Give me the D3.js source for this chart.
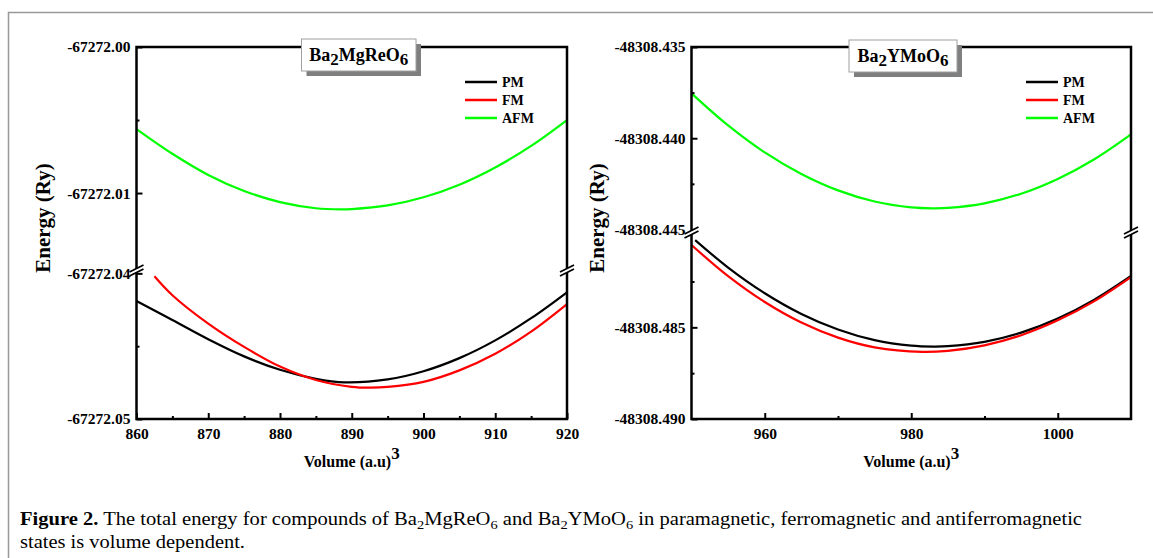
<!DOCTYPE html>
<html>
<head>
<meta charset="utf-8">
<script src="https://cdn.jsdelivr.net/npm/d3@7"></script>
<style>
  body { margin: 0; background: #fff; }
  text { font-family: "Liberation Serif", "Times New Roman", serif; }
</style>
</head>
<body>
<svg id="fig" width="1153" height="558"></svg>
<script>
// ---- Ba2MgReO6 ----
const mgVolPM  = [860, 865, 870, 875, 880, 885, 889, 895, 900, 905, 910, 915, 920];
const mgPM     = [-67272.04190, -67272.04320, -67272.04452, -67272.04570, -67272.04662, -67272.04724, -67272.04748,
                  -67272.04728, -67272.04672, -67272.04582, -67272.04460, -67272.04308, -67272.04130];
const mgVolFM  = [862.5, 865, 870, 875, 880, 885, 890, 892.5, 895, 900, 905, 910, 915, 920];
const mgFM     = [-67272.04020, -67272.04150, -67272.04345, -67272.04505, -67272.04640, -67272.04732, -67272.04779,
                  -67272.04785, -67272.04780, -67272.04745, -67272.04666, -67272.04552, -67272.04400, -67272.04211];
const mgVolAFM = [860, 865, 870, 875, 880, 885, 888.5, 890, 895, 900, 905, 910, 915, 920];
const mgAFM    = [-67272.00562, -67272.00731, -67272.00876, -67272.00986, -67272.01062, -67272.01104, -67272.01112,
                  -67272.01110, -67272.01085, -67272.01029, -67272.00943, -67272.00825, -67272.00677, -67272.00500];

// ---- Ba2YMoO6 ----
const yVolPM  = [950.5, 955, 960, 965, 970, 975, 980, 983, 985, 990, 995, 1000, 1005, 1010];
const yPM     = [-48308.48024, -48308.48174, -48308.48314, -48308.48427, -48308.48512, -48308.48570, -48308.48600,
                 -48308.48605, -48308.48603, -48308.48579, -48308.48529, -48308.48452, -48308.48349, -48308.48220];
const yVolFM  = [950, 955, 960, 965, 970, 975, 981.5, 985, 990, 995, 1000, 1005, 1010];
const yFM     = [-48308.48051, -48308.48221, -48308.48362, -48308.48474, -48308.48556, -48308.48609, -48308.48634,
                 -48308.48628, -48308.48598, -48308.48543, -48308.48462, -48308.48357, -48308.48226];
const yVolAFM = [950, 955, 960, 965, 970, 975, 980, 983, 985, 990, 995, 1000, 1005, 1010];
const yAFM    = [-48308.43754, -48308.43930, -48308.44078, -48308.44196, -48308.44286, -48308.44347, -48308.44379,
                 -48308.44384, -48308.44382, -48308.44357, -48308.44304, -48308.44223, -48308.44115, -48308.43979];

// ---- ticks ----
const mgXMajor = [860, 870, 880, 890, 900, 910, 920];
const mgXMinor = [865, 875, 885, 895, 905, 915];
const mgYMajorTop = [-67272.00, -67272.01];
const mgYMinorTop = [-67272.005];
const mgYMajorBot = [-67272.04, -67272.05];
const mgYMinorBot = [-67272.045];

const yXMajor = [960, 980, 1000];
const yXMinor = [970, 990];
const yYMajorTop = [-48308.435, -48308.440, -48308.445];
const yYMinorTop = [-48308.4375, -48308.4425];
const yYMajorBot = [-48308.485, -48308.490];
const yYMinorBot = [-48308.4825, -48308.4875];

const seriesNames = ["PM", "FM", "AFM"];
const seriesColors = ["#000000", "#ff0000", "#00ff00"];

const svg = d3.select("#fig");

// outer frame of the figure
svg.append("path")
  .attr("d", "M8.5,558V12.5H1153")
  .attr("fill", "none").attr("stroke", "#999").attr("stroke-width", 1.5);

// text with lowered subscript parts: parts = [[string, isSub], ...]
function subText(t, parts, shift, subSize) {
  let prev = false;
  parts.forEach(([s, sub]) => {
    const sp = t.append("tspan").attr("dy", (sub ? shift : 0) - (prev ? shift : 0)).text(s);
    if (sub && subSize) sp.attr("font-size", subSize);
    prev = sub;
  });
}

function panel(cfg) {
  const g = svg.append("g");
  const x = d3.scaleLinear().domain(cfg.xDomain).range([cfg.left, cfg.right]);
  const yTop = d3.scaleLinear().domain(cfg.topDomain).range([cfg.brk, cfg.top]);
  const yBot = d3.scaleLinear().domain(cfg.botDomain).range([cfg.bottom, cfg.brk]);
  const y = v => v >= cfg.topDomain[0] ? yTop(v) : yBot(v);

  const fmt = v => v.toFixed(cfg.digits);

  // curves
  const line = d3.line().x(d => x(d[0])).y(d => y(d[1])).curve(d3.curveCatmullRom);
  cfg.series.forEach((s, i) => {
    g.append("path")
      .datum(d3.zip(s[0], s[1]))
      .attr("d", line)
      .attr("fill", "none")
      .attr("stroke", seriesColors[i])
      .attr("stroke-width", 2.2);
  });

  // y axes (two segments)
  const yAxis = (scale, vals, size, labels) => {
    const a = g.append("g")
      .attr("transform", `translate(${cfg.left},0)`)
      .call(d3.axisLeft(scale).tickValues(vals).tickSizeInner(-size).tickSizeOuter(0)
        .tickPadding(6).tickFormat(labels ? fmt : ""));
    a.select(".domain").remove();
    a.selectAll("line").attr("stroke", "#000").attr("stroke-width", 2);
    a.selectAll("text").attr("font-size", 15.5).attr("font-weight", "bold").attr("fill", "#000")
      .attr("font-family", '"Liberation Serif", serif');
  };
  yAxis(yTop, cfg.yMajorTop, 6, true);
  yAxis(yTop, cfg.yMinorTop, 3, false);
  yAxis(yBot, cfg.yMajorBot, 6, true);
  yAxis(yBot, cfg.yMinorBot, 3, false);

  // x axis
  const xAxis = (vals, size, labels) => {
    const a = g.append("g")
      .attr("transform", `translate(0,${cfg.bottom})`)
      .call(d3.axisBottom(x).tickValues(vals).tickSizeInner(-size).tickSizeOuter(0)
        .tickPadding(9).tickFormat(labels ? d3.format("d") : ""));
    a.select(".domain").remove();
    a.selectAll("line").attr("stroke", "#000").attr("stroke-width", 2);
    a.selectAll("text").attr("font-size", 15.5).attr("font-weight", "bold").attr("fill", "#000")
      .attr("font-family", '"Liberation Serif", serif');
  };
  xAxis(cfg.xMajor, 6, true);
  xAxis(cfg.xMinor, 3, false);

  // frame
  g.append("rect")
    .attr("x", cfg.left).attr("y", cfg.top)
    .attr("width", cfg.right - cfg.left).attr("height", cfg.bottom - cfg.top)
    .attr("fill", "none").attr("stroke", "#000").attr("stroke-width", 2.5);

  // axis break marks
  [cfg.left, cfg.right].forEach(ax => {
    const b = cfg.brk;
    g.append("path")
      .attr("d", `M${ax - 7},${b + 2}L${ax + 7},${b - 5}L${ax + 7},${b - 1}L${ax - 7},${b + 6}Z`)
      .attr("fill", "#fff");
    g.append("path")
      .attr("d", `M${ax - 7},${b + 2}L${ax + 7},${b - 5}M${ax - 7},${b + 6}L${ax + 7},${b - 1}`)
      .attr("stroke", "#000").attr("stroke-width", 1.8);
  });

  // title box
  const tb = cfg.titleBox;
  g.append("rect").attr("x", tb[0] + 5).attr("y", tb[1] + 5).attr("width", tb[2]).attr("height", tb[3])
    .attr("fill", "#7f7f7f");
  g.append("rect").attr("x", tb[0]).attr("y", tb[1]).attr("width", tb[2]).attr("height", tb[3])
    .attr("fill", "#fff").attr("stroke", "#a0a0a0").attr("stroke-width", 1);
  const tt = g.append("text")
    .attr("x", tb[0] + tb[2] / 2).attr("y", tb[1] + 22)
    .attr("text-anchor", "middle").attr("font-size", 18).attr("font-weight", "bold");
  subText(tt, cfg.title, 4, 17);

  // legend
  seriesNames.forEach((n, i) => {
    const ly = cfg.legend[1] + i * 18;
    g.append("line").attr("x1", cfg.legend[0]).attr("x2", cfg.legend[0] + 32)
      .attr("y1", ly).attr("y2", ly).attr("stroke", seriesColors[i]).attr("stroke-width", 2.5);
    g.append("text").attr("x", cfg.legend[0] + 37).attr("y", ly + 5)
      .attr("font-size", 14).attr("font-weight", "bold").text(n);
  });

  // axis titles
  svg.append("text")
    .attr("transform", `translate(${cfg.yTitleX},218) rotate(-90)`)
    .attr("text-anchor", "middle").attr("font-size", 21).attr("font-weight", "bold")
    .text("Energy (Ry)");
  const xt = svg.append("text")
    .attr("x", (cfg.left + cfg.right) / 2).attr("y", 467)
    .attr("text-anchor", "middle").attr("font-size", 16).attr("font-weight", "bold");
  xt.append("tspan").text("Volume (a.u)");
  xt.append("tspan").attr("dy", -8).attr("font-size", 17).text("3");
}

panel({
  left: 136.5, right: 567, top: 47, bottom: 419, brk: 270, digits: 2,
  xDomain: [860, 920],
  topDomain: [-67272.01527, -67272.00],
  botDomain: [-67272.05, -67272.03977],
  series: [[mgVolPM, mgPM], [mgVolFM, mgFM], [mgVolAFM, mgAFM]],
  xMajor: mgXMajor, xMinor: mgXMinor,
  yMajorTop: mgYMajorTop, yMinorTop: mgYMinorTop, yMajorBot: mgYMajorBot, yMinorBot: mgYMinorBot,
  titleBox: [301.5, 39, 114.5, 32],
  title: [["Ba", false], ["2", true], ["MgReO", false], ["6", true]],
  legend: [465, 82],
  yTitleX: 50
});

panel({
  left: 691.5, right: 1131, top: 47, bottom: 419, brk: 232, digits: 3,
  xDomain: [950, 1010],
  topDomain: [-48308.44514, -48308.435],
  botDomain: [-48308.490, -48308.4798],
  series: [[yVolPM, yPM], [yVolFM, yFM], [yVolAFM, yAFM]],
  xMajor: yXMajor, xMinor: yXMinor,
  yMajorTop: yYMajorTop, yMinorTop: yYMinorTop, yMajorBot: yYMajorBot, yMinorBot: yYMinorBot,
  titleBox: [849, 40, 108, 32],
  title: [["Ba", false], ["2", true], ["YMoO", false], ["6", true]],
  legend: [1026, 82],
  yTitleX: 604
});

// caption
const cap1 = svg.append("text").attr("x", 20).attr("y", 525).attr("font-size", 18.5)
  .attr("textLength", 1062).attr("lengthAdjust", "spacingAndGlyphs");
cap1.append("tspan").attr("font-weight", "bold").text("Figure 2.");
const capParts = [[" The total energy for compounds of Ba", false], ["2", true], ["MgReO", false], ["6", true],
  [" and Ba", false], ["2", true], ["YMoO", false], ["6", true], [" in paramagnetic, ferromagnetic and antiferromagnetic", false]];
subText(cap1, capParts, 4, 13);
svg.append("text").attr("x", 20).attr("y", 548).attr("font-size", 18.5)
  .attr("textLength", 225).attr("lengthAdjust", "spacingAndGlyphs")
  .text("states is volume dependent.");
</script>
</body>
</html>
